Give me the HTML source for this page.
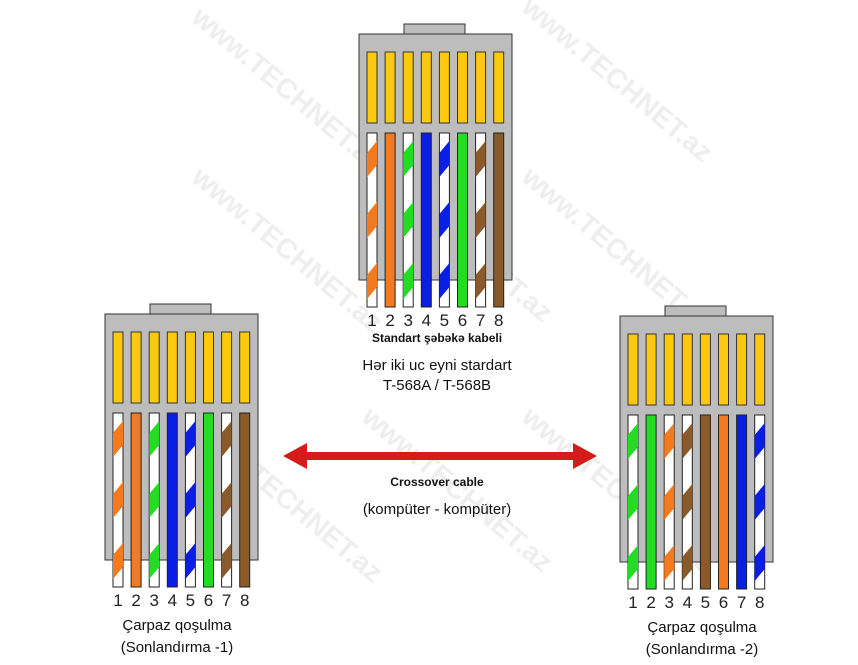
<!DOCTYPE html>
<html><head><meta charset="utf-8"><style>
html,body{margin:0;padding:0;background:#fff;width:858px;height:665px;overflow:hidden}
svg{display:block}
text{font-family:"Liberation Sans",sans-serif}
</style></head><body>
<svg id="s" width="858" height="665" xmlns="http://www.w3.org/2000/svg">
<g fill="#eeeeee" font-size="28" font-weight="bold" font-family="Liberation Sans,sans-serif">
<text transform="translate(190,20) rotate(40)">www.TECHNET.az</text>
<text transform="translate(520,10) rotate(40)">www.TECHNET.az</text>
<text transform="translate(190,180) rotate(40)">www.TECHNET.az</text>
<text transform="translate(520,180) rotate(40)">www.TECHNET.az</text>
<text transform="translate(190,430) rotate(40)">www.TECHNET.az</text>
<text transform="translate(520,420) rotate(40)">www.TECHNET.az</text>
<text transform="translate(360,170) rotate(40)">www.TECHNET.az</text>
<text transform="translate(360,420) rotate(40)">www.TECHNET.az</text>
</g>
<g id="c"></g>
<polygon points="283,456 307,443 307,452 573,452 573,443 597,456 573,469 573,460 307,460 307,469" fill="#d41c1c"/>
<g fill="#111" text-anchor="middle">
<text x="437" y="342" font-size="12" font-weight="bold">Standart şəbəkə kabeli</text>
<text x="437" y="370" font-size="15">Hər iki uc eyni stardart</text>
<text x="437" y="390" font-size="15">T-568A / T-568B</text>
<text x="437" y="486" font-size="12" font-weight="bold">Crossover cable</text>
<text x="437" y="514" font-size="15">(kompüter - kompüter)</text>
<text x="177" y="630" font-size="15">Çarpaz qoşulma</text>
<text x="177" y="652" font-size="15">(Sonlandırma -1)</text>
<text x="702" y="632" font-size="15">Çarpaz qoşulma</text>
<text x="702" y="654" font-size="15">(Sonlandırma -2)</text>
</g>
</svg>
<script>
var O="#f47a20",G="#22dd22",B="#0b1ee6",N="#8b5a2b";
var A=[["s",O],["f",O],["s",G],["f",B],["s",B],["f",G],["s",N],["f",N]];
var X=[["s",G],["f",G],["s",O],["s",N],["f",N],["f",O],["f",B],["s",B]];
function conn(bx,by,wires){
 var h='';
 h+='<rect x="'+(bx+45)+'" y="'+(by-10)+'" width="61" height="10" fill="#bdbdbd" stroke="#333" stroke-width="1"/>';
 h+='<rect x="'+bx+'" y="'+by+'" width="153" height="'+246+'" fill="#bdbdbd" stroke="#333" stroke-width="1"/>';
 for(var i=0;i<8;i++){
  var x=bx+8+i*18.1;
  h+='<rect x="'+x+'" y="'+(by+18)+'" width="10" height="71" fill="#fcc90e" stroke="#333" stroke-width="1"/>';
  var w=wires[i],y0=by+99,y1=by+273;
  h+='<rect x="'+x+'" y="'+y0+'" width="10" height="'+(y1-y0)+'" fill="'+(w[0]=="f"?w[1]:"#fff")+'" stroke="#222" stroke-width="1"/>';
  if(w[0]=="s"){
   for(var k=0;k<3;k++){
    var s=y0+8+k*61;
    h+='<polygon points="'+x+','+(s+12)+' '+(x+10)+','+s+' '+(x+10)+','+(s+24)+' '+x+','+(s+36)+'" fill="'+w[1]+'"/>';
   }
  }
  h+='<text x="'+(x+5)+'" y="'+(y1+19)+'" font-size="17" text-anchor="middle" fill="#222">'+(i+1)+'</text>';
 }
 return h;
}
document.getElementById('c').innerHTML=conn(359,34,A)+conn(105,314,A)+conn(620,316,X);
</script>
</body></html>
